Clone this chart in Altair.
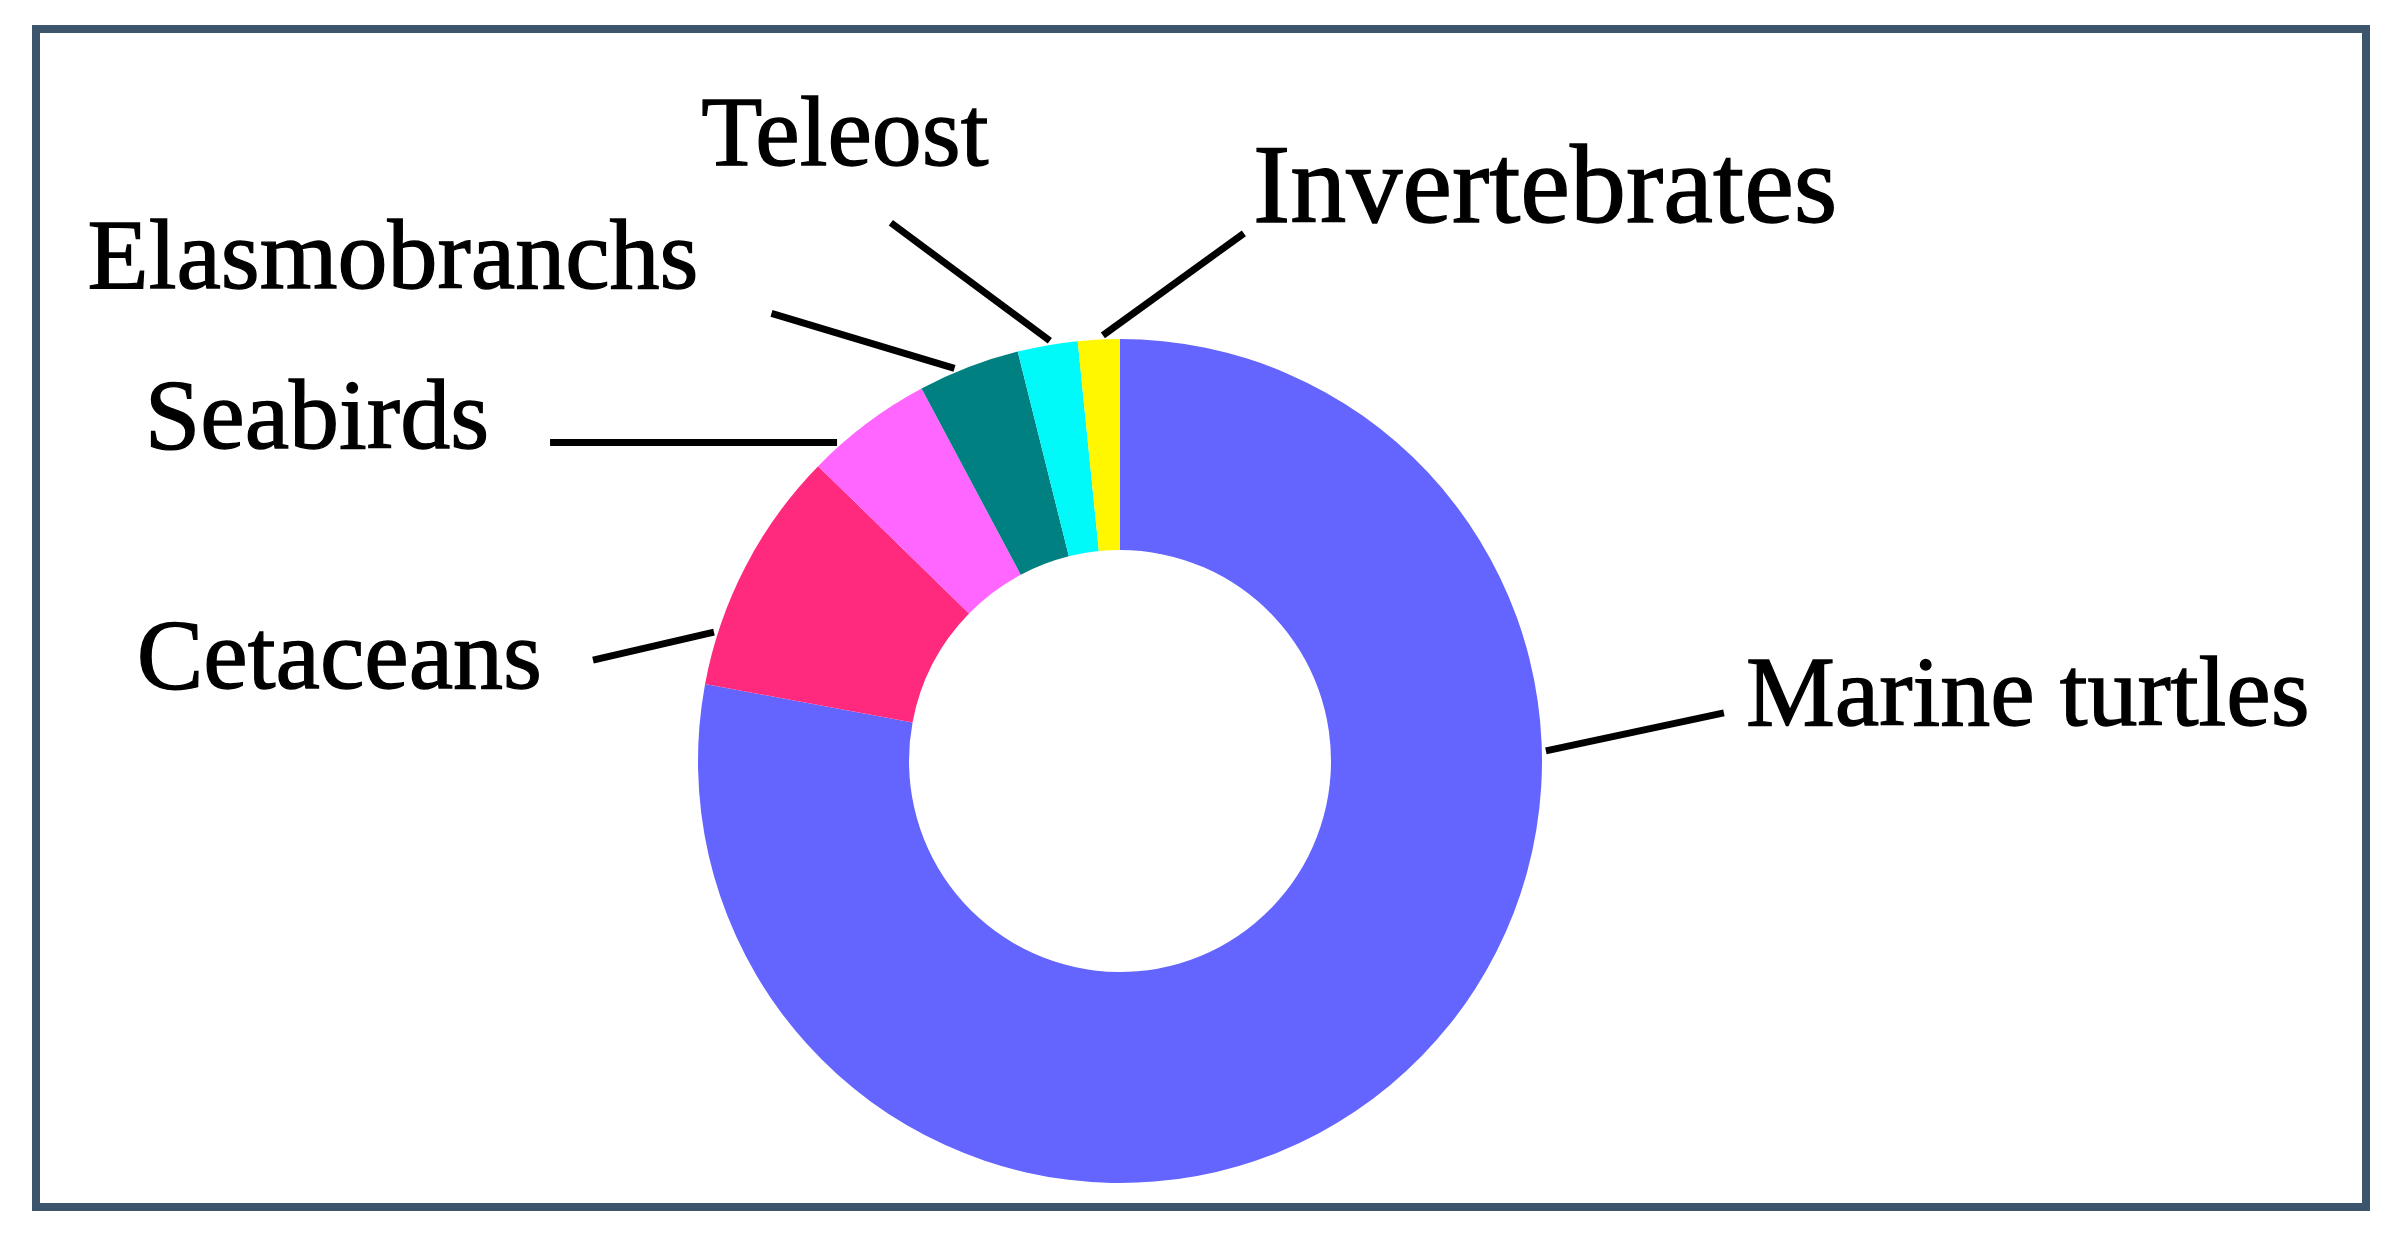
import math
import altair as alt
import pandas as pd

# ---- data ----
categories = ["Marine turtles", "Cetaceans", "Seabirds", "Elasmobranchs", "Teleost", "Invertebrates"]
values = [78.0, 9.4, 4.9, 3.9, 2.3, 1.6]

# ---- style ----
colors = ["#6464FF", "#FF2A7E", "#FF66FF", "#008080", "#00FAFA", "#FFF700"]
FONT = "Liberation Serif"

# ---- layout (page pixel units) ----
CX, CY = 1120, 761
R_OUT, R_IN = 422, 211
R_LEAD = 426
lead_frac = [0.316, 0.21, 0.23, 0.37, 0.55, 0.6]
lead_vec = [(178, -38), (-121, 28), (-287, 0), (-183, -55), (-159, -118), (141, -102)]
label_off = [(22, 12), (-51, 28), (-61, 5), (-73, -25), (-46, -58), (9, -11)]
label_align = ["left", "right", "right", "right", "center", "left"]
label_size = [100, 100, 100, 100, 100, 112]

total = sum(values)
rows = []
cum = 0.0
for i, (cat, v) in enumerate(zip(categories, values)):
    a0 = cum / total * 360.0
    cum += v
    a1 = cum / total * 360.0
    a = math.radians(a0 + lead_frac[i] * (a1 - a0))
    sx = CX + R_LEAD * math.sin(a)
    sy = CY - R_LEAD * math.cos(a)
    ex = sx + lead_vec[i][0]
    ey = sy + lead_vec[i][1]
    rows.append(dict(
        idx=i, category=cat, value=v,
        sx=sx, sy=sy, ex=ex, ey=ey,
        tx=ex + label_off[i][0], ty=ey + label_off[i][1],
        align=label_align[i], fsize=label_size[i],
    ))
df = pd.DataFrame(rows)

xs = alt.Scale(domain=[36, 2366], nice=False, zero=False)
ys = alt.Scale(domain=[29, 1207], nice=False, zero=False, reverse=True)

arc = alt.Chart(df).mark_arc(outerRadius=R_OUT, innerRadius=R_IN).encode(
    theta=alt.Theta("value:Q", stack=True),
    color=alt.Color("category:N", scale=alt.Scale(domain=categories, range=colors), legend=None),
    order=alt.Order("idx:Q"),
    x=alt.X(datum=CX, type="quantitative", scale=xs, axis=None),
    y=alt.Y(datum=CY, type="quantitative", scale=ys, axis=None),
)

rules = alt.Chart(df).mark_rule(strokeWidth=7, color="black", strokeCap="butt").encode(
    x=alt.X("sx:Q", scale=xs, axis=None),
    y=alt.Y("sy:Q", scale=ys, axis=None),
    x2="ex:Q",
    y2="ey:Q",
)

texts = []
for al in ["left", "right", "center"]:
    texts.append(
        alt.Chart(df)
        .transform_filter(alt.datum.align == al)
        .mark_text(align=al, baseline="alphabetic", font=FONT, color="black",
                   stroke="black", strokeWidth=1.3)
        .encode(
            x=alt.X("tx:Q", scale=xs, axis=None),
            y=alt.Y("ty:Q", scale=ys, axis=None),
            text="category:N",
            size=alt.Size("fsize:Q", scale=None, legend=None),
        )
    )

chart = (
    alt.layer(arc, rules, *texts)
    .properties(
        width=2330,
        height=1178,
        padding={"left": 28, "top": 21, "right": 10, "bottom": 10},
        autosize=alt.AutoSizeParams(type="none"),
        background="white",
    )
    .configure_view(stroke="#3C546C", strokeWidth=8)
)

chart.save("out.html", embed_options={"renderer": "svg", "actions": False})
